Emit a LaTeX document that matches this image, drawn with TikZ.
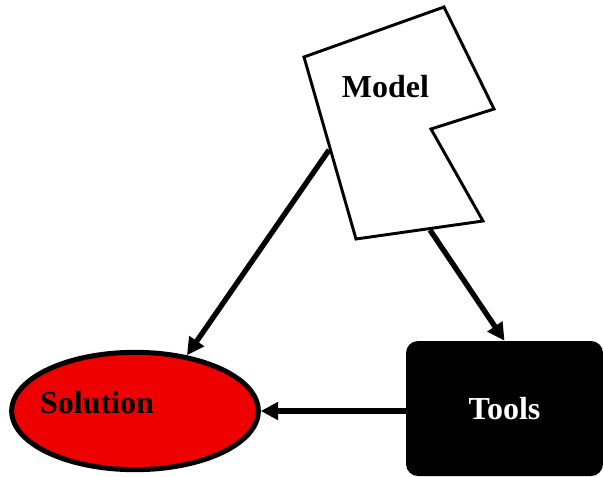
\documentclass[tikz,border=0pt]{standalone}
\usepackage{fontspec}
\setmainfont{Liberation Serif}
\usetikzlibrary{shapes.geometric,arrows.meta}
\definecolor{solred}{RGB}{238,0,0}
\begin{document}
\begin{tikzpicture}[x=0.75pt,y=-0.75pt,
  every node/.style={font=\fontsize{24}{28}\selectfont\bfseries},
  flow/.style={line width=4pt,-{Triangle[length=13pt,width=13pt]}},
  modelshape/.style={draw,line width=2.2pt,line join=miter,fill=white},
  solshape/.style={ellipse,draw,line width=3.75pt,fill=solred,inner sep=0pt,
    minimum width=185pt,minimum height=88pt},
  toolshape/.style={rectangle,rounded corners=9pt,fill=black,text=white,
    minimum width=147.75pt,minimum height=101.25pt}]
  \useasboundingbox (0,0) rectangle (603,476);
  % model
  \draw[modelshape] (304,57) -- (444,7) -- (494,109) -- (431,129)
    -- (483,221) -- (356,239) -- cycle;
  \node[anchor=base] (model) at (385.5,97) {Model};
  \coordinate (mleft) at (329,150);
  \coordinate (mbottom) at (430,230);
  % solution and tools
  \node[solshape] (sol) at (135,411) {};
  \node[anchor=base] (soltext) at (97,413) {Solution};
  \node[toolshape] (tools) at (504.5,408.5) {Tools};
  \draw[flow] (mleft) -- (sol.47);
  \draw[flow] (mbottom) -- (tools.north);
  \draw[flow] (tools.west |- sol.east) -- (sol.east);
\end{tikzpicture}
\end{document}
